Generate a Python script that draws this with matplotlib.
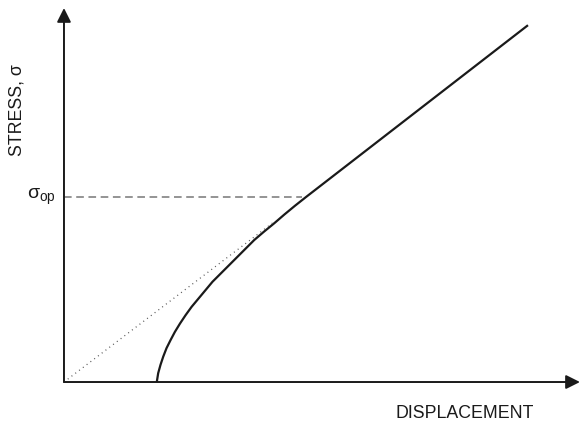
import matplotlib
matplotlib.use("Agg")
import matplotlib.pyplot as plt

plt.rcParams["font.family"] = ["Liberation Sans", "DejaVu Sans"]
plt.rcParams["mathtext.fontset"] = "custom"
plt.rcParams["mathtext.rm"] = "Liberation Sans"
plt.rcParams["mathtext.it"] = "Liberation Sans"

# stress-displacement curve
curve_disp = [2.00, 2.03, 2.08, 2.14, 2.21, 2.30, 2.39, 2.50, 2.62, 2.75,
              2.90, 3.05, 3.20, 3.38, 3.56, 3.74, 3.92, 4.10, 4.31, 4.53,
              4.75, 4.98, 5.22, 10.0]
curve_stress = [0.00, 0.19, 0.37, 0.55, 0.73, 0.91, 1.08, 1.26, 1.44, 1.62,
                1.80, 1.98, 2.16, 2.34, 2.52, 2.70, 2.88, 3.06, 3.24, 3.42,
                3.61, 3.80, 3.99, 7.69]

# dotted extrapolation from origin
dot_disp = [0.0, 4.55]
dot_stress = [0.0, 3.47]

# opening stress level
sigma_op = 3.99
sigma_op_disp = 5.12

fig = plt.figure(figsize=(5.8, 4.26), dpi=100)
ax = fig.add_axes([0, 0, 1, 1])
ax.set_xlim(-1.379, 11.121)
ax.set_ylim(-0.948, 8.233)
ax.axis("off")

# axes with arrows
ax.annotate("", xy=(11.12, 0), xytext=(0, 0),
            arrowprops=dict(arrowstyle="-|>", color="#1a1a1a", lw=1.4,
                            mutation_scale=21, shrinkA=0, shrinkB=0))
ax.annotate("", xy=(0, 8.06), xytext=(0, 0),
            arrowprops=dict(arrowstyle="-|>", color="#1a1a1a", lw=1.4,
                            mutation_scale=21, shrinkA=0, shrinkB=0))

ax.plot(curve_disp, curve_stress, color="#1a1a1a", lw=1.6,
        solid_capstyle="butt", solid_joinstyle="round")
ax.plot(dot_disp, dot_stress, color="#555555", lw=0.9, ls=(0, (0.8, 3.0)))
ax.plot([0, sigma_op_disp], [sigma_op, sigma_op], color="#777777", lw=1.1,
        ls=(0, (5, 3)))

ax.text(-0.17, sigma_op, r"$\sigma_{\rm op}$", ha="right", va="center",
        fontsize=14, color="#1a1a1a")
ax.text(-1.01, 5.86, "STRESS, σ", rotation=90, ha="center", va="center",
        fontsize=12.8, color="#1a1a1a")
ax.text(8.64, -0.668, "DISPLACEMENT", ha="center", va="center",
        fontsize=12.8, color="#1a1a1a")

plt.savefig("out.png", dpi=100)
